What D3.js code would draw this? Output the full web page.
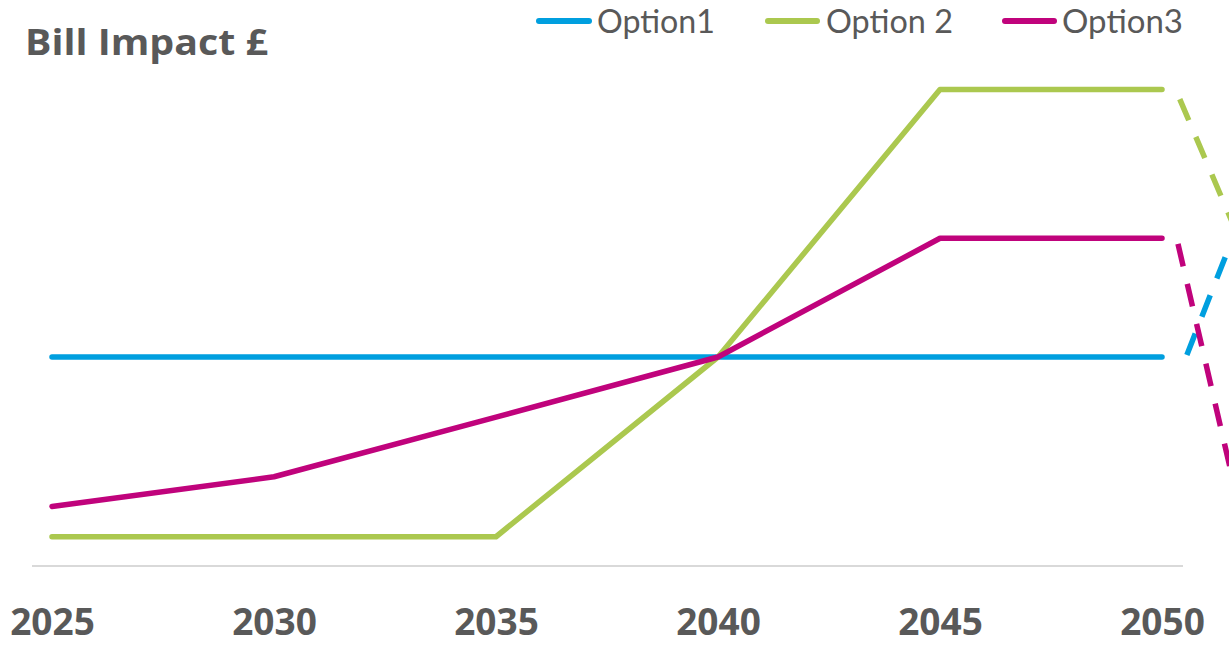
<!DOCTYPE html>
<html>
<head>
<meta charset="utf-8">
<script src="https://cdn.jsdelivr.net/npm/d3@7"></script>
<style>
  html, body { margin: 0; padding: 0; background: #ffffff; }
  svg { display: block; }
</style>
</head>
<body>
<svg id="chart" width="1229" height="664"></svg>
<script>
// ---- data ----
const years = [2025, 2030, 2035, 2040, 2045, 2050];
const tickLabels = ["2025", "2030", "2035", "2040", "2045", "2050"];
const seriesNames = ["Option1", "Option 2", "Option3"];
const option1 = [100, 100, 100, 100, 100, 100];
const option2 = [14, 14, 14, 100, 228, 228];
const option3 = [28.5, 42.7, 71.2, 100, 156.8, 156.8];
// dashed projections beyond 2050 (year, value)
const option1Proj = [[2050.56, 101], [2051.76, 166]];
const option2Proj = [[2050.40, 223.4], [2051.76, 155.5]];
const option3Proj = [[2050.36, 154.1], [2051.76, 26.3]];
const colors = ["#009fdf", "#abc84f", "#c0037c"];
const titleText = "Bill Impact £";

// ---- layout ----
const svg = d3.select("#chart");
const textColor = "#595959";

const x = d3.scaleLinear().domain([2025, 2050]).range([52, 1162]);
const y = d3.scaleLinear().domain([0, 250]).range([566, 43.5]);

// baseline axis line
svg.append("line")
  .attr("x1", x.range()[0] - 20).attr("x2", x.range()[1] + 21)
  .attr("y1", y(0)).attr("y2", y(0))
  .attr("stroke", "#d9d9d9").attr("stroke-width", 2);

// x axis labels via d3 axis
const xAxis = d3.axisBottom(x)
  .tickValues(years)
  .tickFormat((d, i) => tickLabels[i])
  .tickSize(0)
  .tickPadding(0);
const gx = svg.append("g")
  .attr("transform", `translate(0, ${y(0)})`)
  .call(xAxis);
gx.select(".domain").remove();
gx.selectAll("text")
  .attr("dy", null)
  .attr("y", 69)
  .attr("fill", textColor)
  .attr("font-family", "'Open Sans', sans-serif")
  .attr("font-weight", "bold")
  .attr("font-size", "37px");

// lines
const line = d3.line().x((d, i) => x(years[i])).y(d => y(d));
const projLine = d3.line().x(d => x(d[0])).y(d => y(d[1]));
const allSeries = [option1, option2, option3];
const allProj = [option1Proj, option2Proj, option3Proj];

allProj.forEach((p, i) => {
  svg.append("path")
    .attr("d", projLine(p))
    .attr("fill", "none")
    .attr("stroke", colors[i])
    .attr("stroke-width", 5.5)
    .attr("stroke-dasharray", "23,18")
    .attr("stroke-linecap", "butt");
});
allSeries.forEach((s, i) => {
  svg.append("path")
    .attr("d", line(s))
    .attr("fill", "none")
    .attr("stroke", colors[i])
    .attr("stroke-width", 5.5)
    .attr("stroke-linejoin", "round")
    .attr("stroke-linecap", "round");
});

// title
svg.append("text")
  .attr("x", 25).attr("y", 55)
  .attr("fill", textColor)
  .attr("font-family", "'Open Sans', sans-serif")
  .attr("font-weight", "bold")
  .attr("font-size", "36px")
  .attr("textLength", 243)
  .attr("lengthAdjust", "spacingAndGlyphs")
  .text(titleText);

// legend
const legendItems = [
  { lx1: 539, lx2: 589, tx: 597, tw: 118 },
  { lx1: 768, lx2: 817, tx: 826, tw: 127 },
  { lx1: 1005, lx2: 1054, tx: 1062, tw: 121 }
];
legendItems.forEach((it, i) => {
  svg.append("line")
    .attr("x1", it.lx1).attr("x2", it.lx2)
    .attr("y1", 21).attr("y2", 21)
    .attr("stroke", colors[i]).attr("stroke-width", 6)
    .attr("stroke-linecap", "round");
  svg.append("text")
    .attr("x", it.tx).attr("y", 33)
    .attr("fill", textColor)
    .attr("font-family", "Lato, sans-serif")
    .attr("font-size", "32px")
    .attr("textLength", it.tw)
    .attr("lengthAdjust", "spacingAndGlyphs")
    .text(seriesNames[i]);
});
</script>
</body>
</html>
